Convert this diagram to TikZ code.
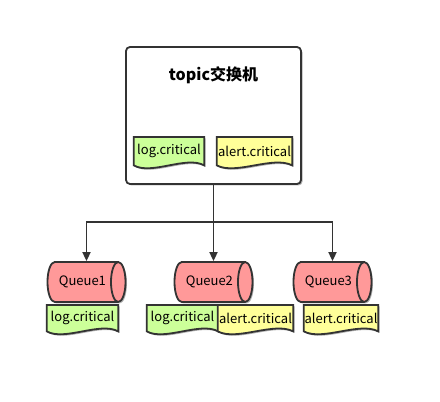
\documentclass[tikz,border=0pt]{standalone}
\usepackage{fontspec}
\setmainfont{Noto Sans CJK SC}
\usetikzlibrary{shapes.geometric,arrows.meta,calc,shadows,backgrounds}
\pgfdeclarelayer{paper}
\pgfsetlayers{background,paper,main}

\definecolor{qred}{HTML}{FF9999}
\definecolor{docgreen}{HTML}{CCFF99}
\definecolor{docyellow}{HTML}{FFFF99}
\definecolor{edge}{HTML}{333333}

\tikzset{
  softshadow/.style={drop shadow={shadow xshift=1.5pt,shadow yshift=-1.5pt,opacity=0.3,fill=black}},
  exchange/.style={draw=edge, line width=1.8pt, fill=white, rounded corners=4pt,
    minimum width=175pt, minimum height=137pt, softshadow},
  queue/.style={cylinder, draw=edge, line width=1.8pt, fill=qred, aspect=1.2,
    minimum height=78pt, minimum width=40pt, inner sep=0pt, anchor=shape center,
    font=\fontsize{13}{15}\selectfont, softshadow},
  doc/.style={anchor=north, minimum height=26pt, inner sep=0pt,
    font=\fontsize{13}{15}\selectfont},
  docline/.style={draw=edge, line width=1.8pt, softshadow},
  link/.style={draw=edge, line width=1.8pt},
  arr/.style={link, -{Triangle[length=9pt,width=8pt]}}
}

% paper with a wavy bottom, drawn under a doc node
\newcommand\docpaper[2]{%
  \begin{pgfonlayer}{paper}
    \path[docline, fill=#2] (#1.north west) -- (#1.north east) -- (#1.south east)
      .. controls ($(#1.south west)!0.75!(#1.south east)+(0,10)$)
      and ($(#1.south west)!0.25!(#1.south east)+(0,-10)$) .. (#1.south west) -- cycle;
  \end{pgfonlayer}}

\begin{document}
\begin{tikzpicture}[x=1pt,y=1pt]
  \useasboundingbox (0,0) rectangle (440,402);

  % exchange box
  \begin{scope}[on background layer]
    \node[exchange] (box) at (213.5,286.5) {};
  \end{scope}
  \node[font=\fontsize{16}{18}\selectfont\bfseries] (title) at (213.5,327) {topic交换机};
  \node[doc, minimum width=70pt, minimum height=28pt] (bind1) at (169,265) {log.critical};
  \node[doc, minimum width=75pt, minimum height=28pt] (bind2) at (254.5,265) {alert.critical};
  \docpaper{bind1}{docgreen}
  \docpaper{bind2}{docyellow}

  % queues
  \node[queue] (q1) at (86.5,120) {Queue1};
  \node[queue] (q2) at (213.5,120) {Queue2};
  \node[queue] (q3) at (332.5,120) {Queue3};

  % routing keys under the queues
  \node[doc, minimum width=71pt] (key1) at (82.5,97) {log.critical};
  \node[doc, minimum width=71pt] (key2) at (182.5,97) {log.critical};
  \node[doc, minimum width=75pt] (key3) at (255.5,97) {alert.critical};
  \node[doc, minimum width=74pt] (key4) at (341,97) {alert.critical};
  \docpaper{key1}{docgreen}
  \docpaper{key2}{docgreen}
  \docpaper{key3}{docyellow}
  \docpaper{key4}{docyellow}

  % routing lines
  \coordinate (hub) at (213.5,180);
  \draw[link] (box.south) -- (hub);
  \draw[arr] (hub) -| (q1.shape center |- q1.north);
  \draw[arr] (hub) -- (q2.shape center |- q2.north);
  \draw[arr] (hub) -| (q3.shape center |- q3.north);
\end{tikzpicture}
\end{document}
